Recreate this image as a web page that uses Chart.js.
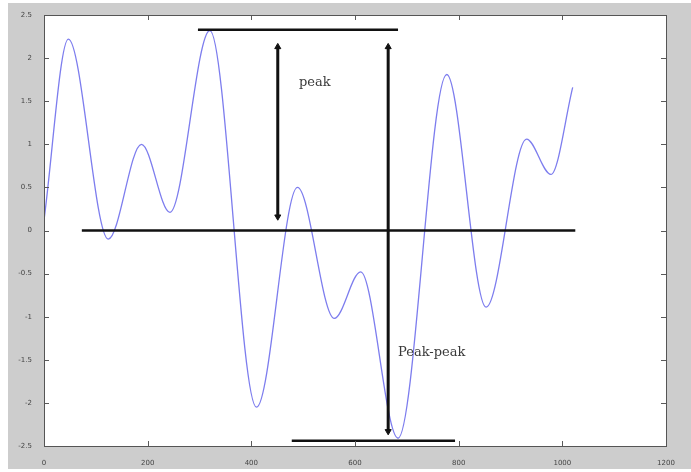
<!DOCTYPE html>
<html>
<head>
<meta charset="utf-8">
<script src="https://cdn.jsdelivr.net/npm/chart.js@4.4.1/dist/chart.umd.min.js"></script>
<style>
  html, body { margin: 0; padding: 0; background: #ffffff; }
  #wrap { width: 691px; height: 472px; }
</style>
</head>
<body>
<div id="wrap"><canvas id="c" width="691" height="472"></canvas></div>
<script>
// Signal turning points (sample index, amplitude), plus first and last sample
const sampleX = [0, 47, 124, 188, 243, 320, 410, 489, 560, 611, 683, 777, 853, 931, 978, 1020];
const sampleY = [0.12, 2.22, -0.1, 1.0, 0.21, 2.32, -2.05, 0.50, -1.02, -0.48, -2.41, 1.81, -0.89, 1.06, 0.65, 1.66];

// Axis ticks
const xTicks = [0, 200, 400, 600, 800, 1000, 1200];
const yTicks = [-2.5, -2, -1.5, -1, -0.5, 0, 0.5, 1, 1.5, 2, 2.5];
const xTickLabels = ['0', '200', '400', '600', '800', '1000', '1200'];
const yTickLabels = ['-2.5', '-2', '-1.5', '-1', '-0.5', '0', '0.5', '1', '1.5', '2', '2.5'];

// Reference levels: [start, end] sample span and amplitude
const zeroSpan = [73, 1025];
const zeroLevel = 0;
const maxSpan = [297, 683];
const maxLevel = 2.33;
const minSpan = [478, 793];
const minLevel = -2.44;

// Measurement arrows: sample position, upper and lower amplitude
const peakArrowX = 451;
const peakArrowY = [2.13, 0.16];
const ppArrowX = 664;
const ppArrowY = [2.13, -2.33];

// Labels: text, sample position (left edge), amplitude
const peakLabel = ['peak', 492, 1.72];
const ppLabel = ['Peak-peak', 683, -1.42];

const signal = sampleX.map((x, i) => ({ x: x, y: sampleY[i] }));
const hline = (span, level) => span.map(x => ({ x: x, y: level }));
const vline = (x, ys) => ys.map(y => ({ x: x, y: y }));

const frame = {
  id: 'frame',
  beforeDraw(chart) {
    const ctx = chart.ctx;
    const a = chart.chartArea;
    ctx.save();
    ctx.fillStyle = '#ffffff';
    ctx.fillRect(0, 0, chart.width, chart.height);
    ctx.fillStyle = '#cdcdcd';
    ctx.fillRect(8, 3, chart.width - 8, 466);
    ctx.fillStyle = '#ffffff';
    ctx.fillRect(a.left, a.top, a.right - a.left, a.bottom - a.top);
    ctx.restore();
  },
  afterDraw(chart) {
    const ctx = chart.ctx;
    const a = chart.chartArea;
    const xs = chart.scales.x, ys = chart.scales.y;
    ctx.save();
    ctx.strokeStyle = '#5a5a5a';
    ctx.lineWidth = 1;
    ctx.beginPath();
    xTicks.forEach(v => {
      const px = Math.round(xs.getPixelForValue(v)) + 0.5;
      ctx.moveTo(px, a.bottom); ctx.lineTo(px, a.bottom - 5);
      ctx.moveTo(px, a.top); ctx.lineTo(px, a.top + 5);
    });
    yTicks.forEach(v => {
      const py = Math.round(ys.getPixelForValue(v)) + 0.5;
      ctx.moveTo(a.left, py); ctx.lineTo(a.left + 5, py);
      ctx.moveTo(a.right, py); ctx.lineTo(a.right - 5, py);
    });
    ctx.stroke();
    ctx.strokeStyle = '#555555';
    ctx.strokeRect(Math.round(a.left) + 0.5, Math.round(a.top) + 0.5,
                   Math.round(a.right - a.left), Math.round(a.bottom - a.top));
    ctx.restore();
  },
  afterDatasetsDraw(chart) {
    const ctx = chart.ctx;
    const xs = chart.scales.x, ys = chart.scales.y;
    ctx.save();
    ctx.fillStyle = '#3a3a3a';
    ctx.font = '13px "DejaVu Serif"';
    ctx.textAlign = 'left';
    ctx.textBaseline = 'middle';
    [peakLabel, ppLabel].forEach(l => {
      ctx.fillText(l[0], xs.getPixelForValue(l[1]), ys.getPixelForValue(l[2]));
    });
    ctx.restore();
  }
};

const blackLine = (data) => ({
  data: data,
  borderColor: '#111111',
  borderWidth: 2.5,
  pointRadius: 0,
  order: 1
});

const arrow = (data) => ({
  data: data,
  borderColor: '#111111',
  backgroundColor: '#111111',
  borderWidth: 3,
  pointStyle: 'triangle',
  pointRadius: 3.5,
  pointRotation: [0, 180],
  pointBackgroundColor: '#111111',
  pointBorderColor: '#111111',
  pointBorderWidth: 1,
  order: 1
});

new Chart(document.getElementById('c'), {
  type: 'line',
  data: {
    datasets: [
      blackLine(hline(zeroSpan, zeroLevel)),
      blackLine(hline(maxSpan, maxLevel)),
      blackLine(hline(minSpan, minLevel)),
      arrow(vline(peakArrowX, peakArrowY)),
      arrow(vline(ppArrowX, ppArrowY)),
      {
        data: signal,
        borderColor: 'rgb(125,125,238)',
        borderWidth: 1.3,
        pointRadius: 0,
        cubicInterpolationMode: 'monotone',
        order: 10
      }
    ]
  },
  options: {
    responsive: false,
    animation: false,
    events: [],
    layout: { padding: { left: 0, top: 15, right: 25, bottom: 0 } },
    plugins: { legend: { display: false }, tooltip: { enabled: false } },
    scales: {
      x: {
        type: 'linear',
        min: 0, max: 1200,
        afterBuildTicks: s => { s.ticks = xTicks.map(v => ({ value: v })); },
        afterFit: s => { s.height = 26; },
        grid: { display: false },
        border: { display: false },
        ticks: {
          autoSkip: false, maxRotation: 0, padding: 5,
          color: '#444444',
          font: { family: 'DejaVu Sans', size: 7 },
          callback: v => xTickLabels[xTicks.indexOf(v)]
        }
      },
      y: {
        type: 'linear',
        min: -2.5, max: 2.5,
        afterBuildTicks: s => { s.ticks = yTicks.map(v => ({ value: v })); },
        afterFit: s => { s.width = 44; },
        grid: { display: false },
        border: { display: false },
        ticks: {
          autoSkip: false, padding: 4,
          color: '#444444',
          font: { family: 'DejaVu Sans', size: 7 },
          callback: v => yTickLabels[yTicks.indexOf(v)]
        }
      }
    }
  },
  plugins: [frame]
});
</script>
</body>
</html>
